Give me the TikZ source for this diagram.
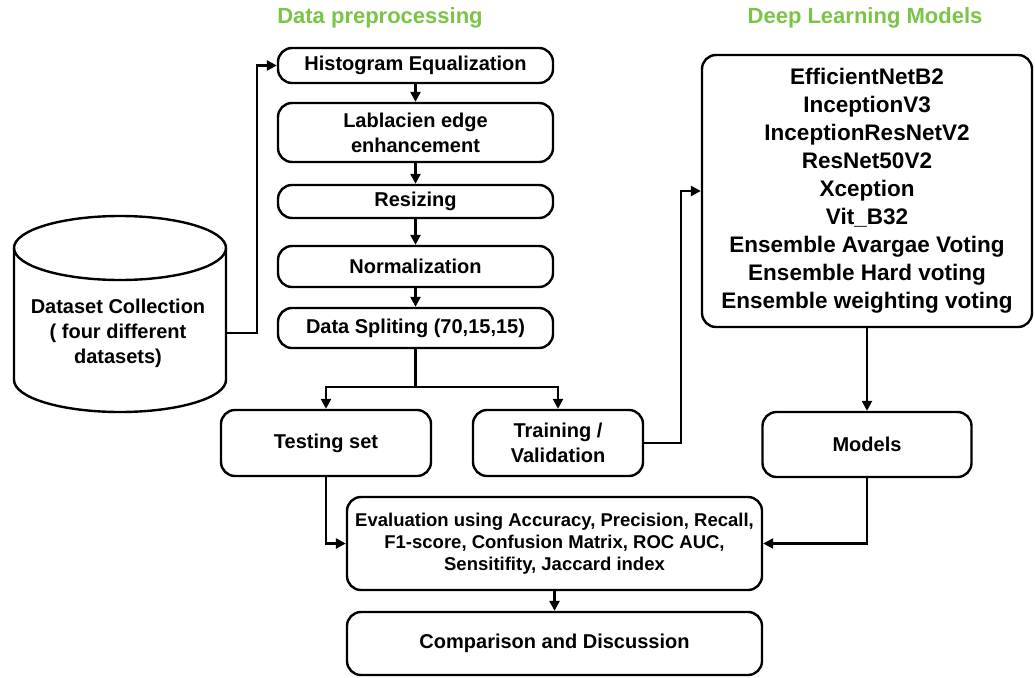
\documentclass[tikz,border=0pt]{standalone}
\usepackage{fontspec}
\setmainfont{Liberation Sans}
\usetikzlibrary{arrows.meta}
\definecolor{titlegreen}{RGB}{122,196,70}
\begin{document}
\begin{tikzpicture}[x=1pt,y=1pt,
  box/.style={draw, line width=2.4pt, rounded corners=14pt, align=center,
    font=\bfseries\fontsize{20}{25}\selectfont, inner sep=0pt},
  arr/.style={line width=2.4pt, -{Triangle[length=10pt,width=10pt]}},
  ln/.style={line width=2.4pt},
  titletext/.style={text=titlegreen, font=\bfseries\fontsize{22}{26}\selectfont}]
\useasboundingbox (0,0) rectangle (1035,-677);

% titles
\node[titletext] (t1) at (380,-18) {Data preprocessing};
\node[titletext] (t2) at (865,-18) {Deep Learning Models};

% cylinder
\draw[ln] (14,-248) -- (14,-380) arc[start angle=180,end angle=360,x radius=106pt,y radius=32pt] -- (226,-248);
\draw[ln] (120,-248) ellipse[x radius=106pt, y radius=32pt];
\node[align=center, font=\bfseries\fontsize{20}{25}\selectfont] (ds) at (118,-333) {Dataset Collection\\( four different\\datasets)};
\coordinate (dsout) at (226,-333);

% preprocessing chain
\node[box, minimum width=275pt, minimum height=35pt] (he) at (415.5,-65.5) {Histogram Equalization};
\node[box, minimum width=275pt, minimum height=59pt] (lab) at (415.5,-132.5) {Lablacien edge\\enhancement};
\node[box, minimum width=275pt, minimum height=33pt] (res) at (415.5,-201.5) {Resizing};
\node[box, minimum width=275pt, minimum height=41pt] (norm) at (415.5,-266.5) {Normalization};
\node[box, minimum width=275pt, minimum height=40pt] (split) at (415.5,-328) {Data Spliting (70,15,15)};

% model list
\node[box, minimum width=330pt, minimum height=272pt, font=\bfseries\fontsize{22.5}{28}\selectfont] (dl) at (867,-191)
  {EfficientNetB2\\InceptionV3\\InceptionResNetV2\\ResNet50V2\\Xception\\Vit\_B32\\Ensemble Avargae Voting\\Ensemble Hard voting\\Ensemble weighting voting};

% middle row
\node[box, minimum width=210pt, minimum height=66pt] (test) at (326,-443) {Testing set};
\node[box, minimum width=170pt, minimum height=66pt] (train) at (558,-443) {Training /\\Validation};
\node[box, minimum width=209pt, minimum height=65pt] (models) at (867,-444.5) {Models};

% evaluation
\node[box, minimum width=415pt, minimum height=93pt, font=\bfseries\fontsize{18.5}{22}\selectfont] (eval) at (554.5,-543.5)
  {Evaluation using Accuracy, Precision, Recall,\\F1-score, Confusion Matrix, ROC AUC,\\Sensitifity, Jaccard index};
\node[box, minimum width=415pt, minimum height=63pt] (comp) at (554.5,-643.5) {Comparison and Discussion};

% connectors
\draw[arr] (dsout) -| ([xshift=-20pt]he.west) -- (he.west);
\draw[arr] (he) -- (lab);
\draw[arr] (lab) -- (res);
\draw[arr] (res) -- (norm);
\draw[arr] (norm) -- (split);
\coordinate (j) at (415.5,-387);
\draw[ln] (split.south) -- (j);
\draw[arr] (j) -| (test.north);
\draw[arr] (j) -| (train.north);
\draw[arr] (train.east) -- ++(37,0) |- (dl.west);
\draw[arr] (dl.south) -- (models.north);
\draw[arr] (test.south) |- (eval.west);
\draw[arr] (models.south) |- (eval.east);
\draw[arr] (eval) -- (comp);
\end{tikzpicture}
\end{document}
